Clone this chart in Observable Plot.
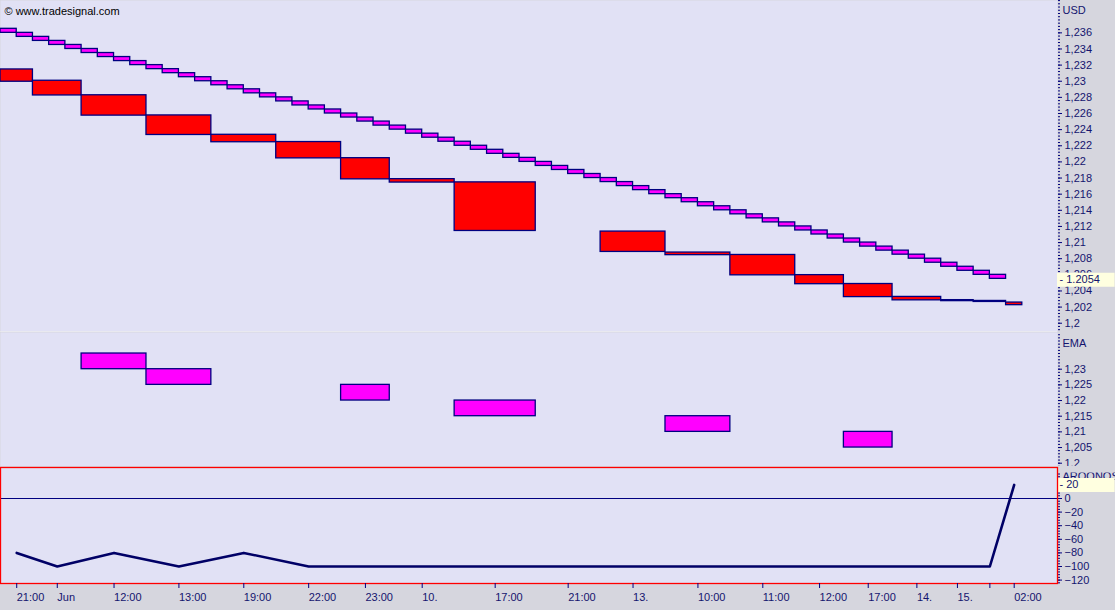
<!DOCTYPE html>
<html>
<head>
<meta charset="utf-8">
<script src="https://cdn.jsdelivr.net/npm/d3@7"></script>
<script src="https://cdn.jsdelivr.net/npm/@observablehq/plot@0.6"></script>
<style>
  body { margin: 0; background: #d6d6de; }
  #chart { width: 1115px; height: 610px; overflow: hidden; }
  #chart svg { display: block; }
</style>
</head>
<body>
<div id="chart"></div>
<script>
// one entry per line-break column
const colLabels = ["21:00","Jun","12:00","13:00","19:00","22:00","23:00","10.","17:00","21:00","13.","10:00","11:00","12:00","17:00","14.","15.","","02:00"];
const colBars   = [2,3,4,4,4,4,3,4,5,4,4,4,4,3,3,3,2,2,1];
const boxHigh = [1.2314,1.2300,1.2282,1.2257,1.2233,1.2224,1.2204,1.2178,1.2174,null,1.2113,1.2087,1.2084,1.2059,1.2048,1.2032,1.2028,1.2027,1.2025];
const boxLow  = [1.2300,1.2283,1.2258,1.2234,1.2225,1.2205,1.2179,1.2175,1.2115,null,1.2089,1.2085,1.2060,1.2049,1.2033,1.2029,1.2028,1.2027,1.2023];
const aroon   = [-80,-100,-80,-100,-80,-100,-100,-100,-100,-100,-100,-100,-100,-100,-100,-100,-100,-100,20];

// per bar trend bricks (top value), brick size
const trendTop = [1.2365,1.2360,1.2355,1.2350,1.2345,1.2340,1.2335,1.2330,1.2325,1.2320,
  1.2315,1.2310,1.2305,1.2300,1.2295,1.2290,1.2285,1.2280,1.2275,1.2270,
  1.2265,1.2260,1.2255,1.2250,1.2245,1.2240,1.2235,1.2230,1.2225,1.2220,
  1.2215,1.2210,1.2205,1.2200,1.2195,1.2190,1.2185,1.2180,1.2175,1.2170,
  1.2165,1.2160,1.2155,1.2150,1.2145,1.2140,1.2135,1.2130,1.2125,1.2120,
  1.2115,1.2110,1.2105,1.2100,1.2095,1.2090,1.2085,1.2080,1.2075,1.2070,
  1.2065,1.2060];
const trendBrick = 0.0005;
const lastPrice = 1.2054;

// EMA bricks
const emaCol    = [2,3,6,8,11,14];
const emaTop    = [1.2350,1.2300,1.2250,1.2200,1.2150,1.2100];
const emaBottom = [1.2300,1.2250,1.2200,1.2150,1.2100,1.2050];

const priceTicks = [1.2,1.202,1.204,1.206,1.208,1.21,1.212,1.214,1.216,1.218,1.22,1.222,1.224,1.226,1.228,1.23,1.232,1.234,1.236];
const emaTicks   = [1.2,1.205,1.21,1.215,1.22,1.225,1.23];
const aroonTicks = [-120,-100,-80,-60,-40,-20,0,20];

const ink = "#14146e", navy = "#000080", bg = "#e1e1f5", panel = "#d6d6de";
const xDomain = [0, 65.17];
const edges = d3.cumsum([0, ...colBars]);
const cols = colLabels.map((label, i) => ({
  label, x1: edges[i], x2: edges[i + 1], xm: (edges[i] + edges[i + 1]) / 2,
  high: boxHigh[i], low: boxLow[i], aroon: aroon[i]
}));
const labelAt = new Map(cols.map(d => [d.xm, d.label]));
const trend = trendTop.map((t, i) => ({i, t}));
const ema = emaCol.map((c, i) => ({x1: cols[c].x1, x2: cols[c].x2, hi: emaTop[i], lo: emaBottom[i]}));
const fmt = d => String(d).replace(".", ",");

const style = {fontFamily: "Liberation Sans, Arial, sans-serif", fontSize: "11px", color: ink, background: panel, overflow: "hidden"};
const base = {width: 1115, marginLeft: 0, marginRight: 58, marginTop: 0, marginBottom: 0, style};

// price panel
const priceDomain = [1.19885, 1.24001];
const pricePlot = Plot.plot({
  ...base, height: 332,
  x: {domain: xDomain, axis: null},
  y: {domain: priceDomain},
  marks: [
    Plot.frame({fill: bg, stroke: "none"}),
    Plot.ruleY([priceDomain[0]], {stroke: "#f2f2ea", strokeWidth: 2}),
    Plot.axisY({anchor: "right", label: null, ticks: d3.range(-2, 101).map(i => 1.2 + i * 0.0004), tickSize: 2, tickFormat: () => "", stroke: navy}),
    Plot.axisY({anchor: "right", label: null, ticks: priceTicks, tickSize: 4, tickPadding: 3, tickFormat: fmt, stroke: navy}),
    Plot.rect(cols.filter(d => d.high != null), {x1: "x1", x2: "x2", y1: "low", y2: "high", fill: "#ff0000", stroke: navy, strokeWidth: 1.3, insetTop: -0.5, insetBottom: -0.5}),
    Plot.rect(trend, {x1: "i", x2: d => d.i + 1, y1: d => d.t - trendBrick, y2: "t", fill: "#ff00ff", stroke: navy, strokeWidth: 1.3}),
    Plot.ruleY([lastPrice], {x1: xDomain[1], x2: xDomain[1] + 3.55, stroke: "#ffffe0", strokeWidth: 14}),
    Plot.text([lastPrice], {y: d => d, frameAnchor: "right", text: d => "- " + d, textAnchor: "start", dx: 2, fill: ink}),
    Plot.text(["USD"], {frameAnchor: "top-right", textAnchor: "start", lineAnchor: "middle", dx: 5, dy: 10, fill: ink}),
    Plot.text(["© www.tradesignal.com"], {frameAnchor: "top-left", textAnchor: "start", lineAnchor: "middle", dx: 4, dy: 11, fill: "#000"})
  ]
});

// EMA panel
const emaDomain = [1.19895, 1.24171];
const emaPlot = Plot.plot({
  ...base, height: 134,
  x: {domain: xDomain, axis: null},
  y: {domain: emaDomain},
  marks: [
    Plot.frame({fill: bg, stroke: "none"}),
    Plot.axisY({anchor: "right", label: null, ticks: d3.range(-1, 42).map(i => 1.2 + i * 0.001), tickSize: 2, tickFormat: () => "", stroke: navy}),
    Plot.axisY({anchor: "right", label: null, ticks: emaTicks, tickSize: 4, tickPadding: 3, tickFormat: fmt, stroke: navy}),
    Plot.rect(ema, {x1: "x1", x2: "x2", y1: "lo", y2: "hi", fill: "#ff00ff", stroke: navy, strokeWidth: 1.3}),
    Plot.text(["EMA"], {frameAnchor: "top-right", textAnchor: "start", lineAnchor: "middle", dx: 5, dy: 11, fill: ink})
  ]
});

// Aroon oscillator panel with time axis
const aroonDomain = [-125, 45.6];
const lastAroon = aroon[aroon.length - 1];
const aroonPlot = Plot.plot({
  ...base, height: 144, marginTop: 1, marginBottom: 27,
  x: {domain: xDomain},
  y: {domain: aroonDomain},
  marks: [
    Plot.frame({fill: bg, stroke: "none"}),
    Plot.axisY({anchor: "right", label: null, ticks: d3.range(-124, 45, 4), tickSize: 2, tickFormat: () => "", stroke: navy}),
    Plot.axisY({anchor: "right", label: null, ticks: aroonTicks, tickSize: 4, tickPadding: 3, stroke: navy}),
    Plot.text(["AROONOSC"], {frameAnchor: "top-right", textAnchor: "start", lineAnchor: "middle", dx: 5, dy: 9, fill: ink}),
    // the panel header is half hidden under the pane above
    Plot.ruleY([aroonDomain[1]], {x1: xDomain[1] + 0.05, x2: xDomain[1] + 3.6, stroke: panel, strokeWidth: 10}),
    Plot.ruleY([0], {stroke: navy, strokeWidth: 1}),
    Plot.line(cols, {x: "xm", y: "aroon", stroke: "#000066", strokeWidth: 2.6}),
    Plot.ruleY([lastAroon], {x1: xDomain[1], x2: xDomain[1] + 3.55, stroke: "#ffffe0", strokeWidth: 14}),
    Plot.text([lastAroon], {y: d => d, frameAnchor: "right", text: d => "- " + d, textAnchor: "start", dx: 2, fill: ink}),
    Plot.frame({stroke: "#ff0000", strokeWidth: 1.3}),
    Plot.axisX({label: null, ticks: cols.map(d => d.xm), tickFormat: d => labelAt.get(d), tickSize: 5, tickPadding: 5, textAnchor: "start", stroke: navy, fill: ink})
  ]
});

const chart = d3.select("#chart");
chart.append(() => pricePlot);
chart.append(() => emaPlot);
chart.append(() => aroonPlot);
</script>
</body>
</html>
